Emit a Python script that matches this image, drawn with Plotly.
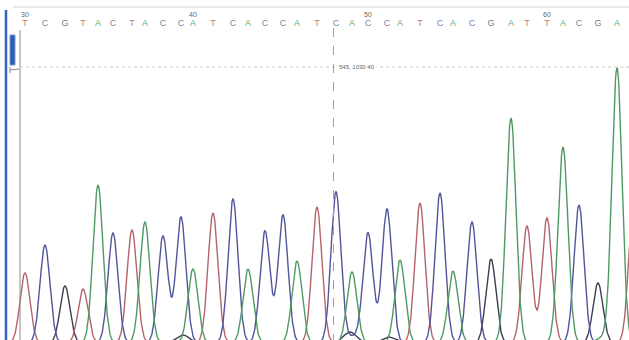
import numpy as np
import plotly.graph_objects as go

# ---- data ----
base_numbers = list(range(30, 66))
base_calls = list("TCGTACTACCATCACCATCACCATCACGATTACGAT")
# scan position of each called base (trace sample index)
peak_scan = [722, 742, 762, 780, 795, 810, 829, 842, 860, 878, 890, 910, 930, 945,
             962, 980, 994, 1014, 1033, 1049, 1065, 1084, 1097, 1117, 1137, 1150,
             1169, 1188, 1208, 1224, 1244, 1260, 1276, 1295, 1314, 1331]
# peak height (signal) of the called base
peak_height = [70, 98, 57, 54, 158, 110, 113, 121, 107, 126, 74, 130, 144, 74,
               112, 128, 82, 136, 151, 71, 110, 134, 83, 140, 150, 72,
               121, 84, 225, 117, 125, 196, 138, 60, 275, 150]
# small background peaks (base, scan, height)
minor_base = ["G", "G", "G", "C", "A"]
minor_scan = [880, 1047, 1086, 1050, 1300]
minor_height = [8, 11, 6, 6, 5]

cursor_scan = 1030
cursor_label = "545, 1030 40"
peak_sigma = 5.0

colors = {"A": "#4f9a63", "C": "#52559c", "G": "#3e3e52", "T": "#b4646a"}
letter_colors = {"A": "#6aa878", "C": "#7a84ac", "G": "#7a7a7a", "T": "#c47a7a"}

x0, x1 = 697, 1326
xs = np.arange(x0 - 10, x1 + 12, 0.5)

fig = go.Figure()
for b in ["G", "T", "C", "A"]:
    y = np.zeros_like(xs)
    for s, h, c in zip(peak_scan, peak_height, base_calls):
        if c == b:
            y += h * np.exp(-((xs - s) ** 2) / (2 * peak_sigma ** 2))
    for s, h, c in zip(minor_scan, minor_height, minor_base):
        if c == b:
            y += h * np.exp(-((xs - s) ** 2) / (2 * (peak_sigma * 1.3) ** 2))
    fig.add_trace(go.Scatter(x=xs, y=y, mode="lines", name=b,
                             line=dict(color=colors[b], width=1.4),
                             hoverinfo="skip", showlegend=False))

H = 340.0
def py(p):
    return 1 - p / H

vis = [i for i, s in enumerate(peak_scan) if s <= x1 - 4]
# base call letters
fig.add_trace(go.Scatter(
    x=[peak_scan[i] for i in vis], y=[343 - 24] * len(vis), mode="text",
    text=[base_calls[i] for i in vis],
    textfont=dict(family="Liberation Sans, Arial", size=9,
                  color=[letter_colors[base_calls[i]] for i in vis]),
    hoverinfo="skip", showlegend=False))
# position numbers every 10 bases
num_x = [s for s, n in zip(peak_scan, base_numbers) if n % 10 == 0]
num_t = [str(n) for n in base_numbers if n % 10 == 0]
fig.add_trace(go.Scatter(
    x=num_x, y=[343 - 15] * len(num_x), mode="text", text=num_t,
    textfont=dict(family="Liberation Sans, Arial", size=7, color="#666666"),
    hoverinfo="skip", showlegend=False))

shapes = [
    # top border line
    dict(type="line", xref="paper", yref="paper", x0=13 / 629, x1=1, y0=py(7), y1=py(7),
         line=dict(color="#d4d4d4", width=1)),
    # left window border (blue)
    dict(type="line", xref="paper", yref="paper", x0=6 / 629, x1=6 / 629, y0=py(10), y1=0,
         line=dict(color="#3565c4", width=2.5)),
    # scroll thumb
    dict(type="rect", xref="paper", yref="paper", x0=10 / 629, x1=15 / 629, y0=py(65), y1=py(35),
         fillcolor="#2d5cb4", line=dict(color="#7a9ad0", width=1)),
    dict(type="line", xref="paper", yref="paper", x0=10 / 629, x1=19 / 629, y0=py(70), y1=py(69),
         line=dict(color="#8a8a8a", width=1)),
    dict(type="line", xref="paper", yref="paper", x0=10 / 629, x1=10 / 629, y0=py(67), y1=py(73),
         line=dict(color="#8a8a8a", width=1)),
    # left axis line
    dict(type="line", xref="paper", yref="paper", x0=20 / 629, x1=20 / 629, y0=py(30), y1=0,
         line=dict(color="#8c8c8c", width=1)),
    # horizontal dotted threshold line
    dict(type="line", xref="paper", yref="paper", x0=20 / 629, x1=1, y0=py(67), y1=py(67),
         line=dict(color="#c8c8c8", width=1, dash="dot")),
    # cursor
    dict(type="line", xref="x", yref="paper", x0=cursor_scan + 0.5, x1=cursor_scan + 0.5,
         y0=py(28), y1=0, line=dict(color="#a0a0a0", width=1, dash="dash")),
]

fig.update_layout(
    width=629, height=340,
    margin=dict(l=0, r=0, t=0, b=0),
    paper_bgcolor="white", plot_bgcolor="white",
    xaxis=dict(range=[x0, x1], visible=False, fixedrange=True),
    yaxis=dict(range=[3, 343], visible=False, fixedrange=True),
    shapes=shapes,
    annotations=[dict(x=cursor_scan + 4, y=py(67), xref="x", yref="paper",
                      text=cursor_label, showarrow=False, xanchor="left", yanchor="middle",
                      bgcolor="white",
                      font=dict(family="Liberation Sans, Arial", size=6, color="#666666"))],
)

fig.write_html("out.html", config={"displayModeBar": False},
               post_script="document.body.style.margin='0';document.body.style.overflow='hidden';")
